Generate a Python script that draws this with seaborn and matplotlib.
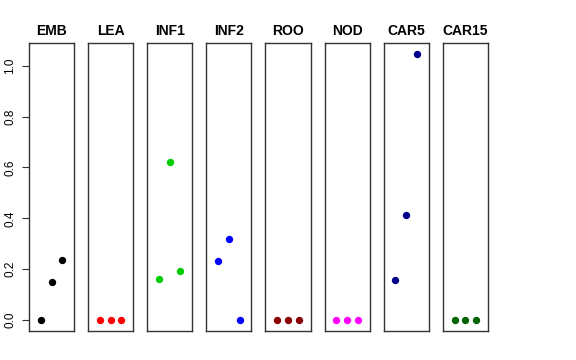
import pandas as pd
import matplotlib
matplotlib.use('Agg')
import matplotlib.pyplot as plt
import seaborn as sns

# Panel names, colours and values (3 points per panel)
tissues = ['EMB', 'LEA', 'INF1', 'INF2', 'ROO', 'NOD', 'CAR5', 'CAR15']
colors = ['#000000', '#FF0000', '#00CD00', '#0000FF', '#8B0000', '#FF00FF', '#00008B', '#006400']
emb = [0.0, 0.15, 0.236]
lea = [0.0, 0.0, 0.0]
inf1 = [0.16, 0.62, 0.193]
inf2 = [0.232, 0.32, 0.0]
roo = [0.0, 0.0, 0.0]
nod = [0.0, 0.0, 0.0]
car5 = [0.157, 0.413, 1.047]
car15 = [0.0, 0.0, 0.0]
replicate = [1, 2, 3]

values = [emb, lea, inf1, inf2, roo, nod, car5, car15]
df = pd.DataFrame({
    'tissue': [t for t in tissues for _ in replicate],
    'rep': replicate * len(tissues),
    'value': [v for vals in values for v in vals],
})

sns.set_style('white')
plt.rcParams['font.family'] = ['Liberation Sans', 'DejaVu Sans']

fig, axes = plt.subplots(1, 8, figsize=(5.76, 3.6), dpi=100, sharey=True)
fig.subplots_adjust(left=0.0503, right=0.847, top=0.881, bottom=0.0806, wspace=0.31)

for ax, tissue, col in zip(axes, tissues, colors):
    sub = df[df['tissue'] == tissue]
    sns.scatterplot(data=sub, x='rep', y='value', color=col, s=28, linewidth=0, ax=ax)
    ax.set_xlim(-0.1, 4.1)
    ax.set_ylim(-0.043, 1.09)
    ax.set_xticks([])
    ax.set_xlabel('')
    ax.set_ylabel('')
    ax.set_title(tissue, fontsize=10, fontweight='bold', color='black', pad=6)
    for s in ax.spines.values():
        s.set_color('#333333')
        s.set_linewidth(1.0)
        s.set_visible(True)

axes[0].set_yticks([0.0, 0.2, 0.4, 0.6, 0.8, 1.0])
axes[0].set_yticklabels(['0.0', '0.2', '0.4', '0.6', '0.8', '1.0'], rotation=90, va='center', fontsize=8.5, color='black')
axes[0].tick_params(axis='y', left=True, length=5, width=0.8, color='#333333', pad=4)
for ax in axes[1:]:
    ax.tick_params(axis='y', left=False, labelleft=False)

fig.savefig('out.png', dpi=100)
